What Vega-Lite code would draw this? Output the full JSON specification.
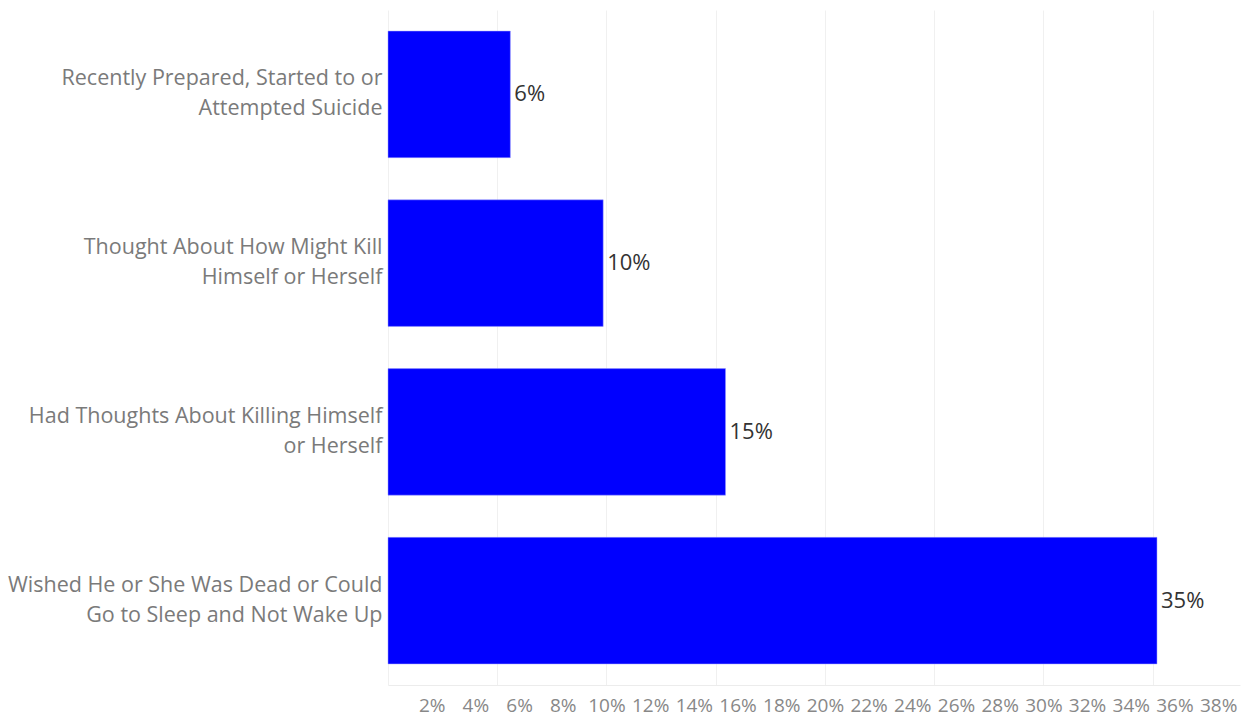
{
  "$schema": "https://vega.github.io/schema/vega-lite/v6.json",
  "autosize": "none",
  "width": 852,
  "height": 675,
  "padding": {"left": 388, "top": 10, "right": 7, "bottom": 32},
  "background": "white",
  "config": {"view": {"stroke": null}, "font": "Open Sans"},
  "data": {"values": [
    {"category": "Recently Prepared, Started to or|Attempted Suicide", "value": 0.056},
    {"category": "Thought About How Might Kill|Himself or Herself", "value": 0.0985},
    {"category": "Had Thoughts About Killing Himself|or Herself", "value": 0.1545},
    {"category": "Wished He or She Was Dead or Could|Go to Sleep and Not Wake Up", "value": 0.352}
  ]},
  "encoding": {
    "y": {
      "field": "category", "type": "nominal", "sort": null,
      "scale": {"paddingInner": 0.25, "paddingOuter": 0.125},
      "axis": {
        "title": null, "ticks": false, "domain": false,
        "labelExpr": "split(datum.label, '|')",
        "labelFontSize": 21.5, "labelLineHeight": 30, "labelColor": "#7a7a7a",
        "labelLimit": 400, "labelPadding": 6, "labelFont": "Open Sans", "labelOffset": -15
      }
    }
  },
  "layer": [
    {
      "mark": {"type": "bar", "color": "#0000ff", "stroke": "#9a9aff", "strokeWidth": 0.5},
      "encoding": {
        "x": {
          "field": "value", "type": "quantitative",
          "scale": {"domain": [0, 0.39], "nice": false},
          "axis": {
            "orient": "bottom", "title": null, "labels": false, "ticks": false,
            "values": [0, 0.05, 0.1, 0.15, 0.2, 0.25, 0.3, 0.35],
            "grid": true, "gridColor": "#f0f0f0", "gridWidth": 1,
            "domain": true, "domainColor": "#ececec"
          }
        }
      }
    },
    {
      "mark": {"type": "text", "align": "left", "baseline": "middle", "dx": 4, "fontSize": 22, "color": "#333333", "font": "Open Sans"},
      "encoding": {
        "x": {
          "field": "value", "type": "quantitative",
          "axis": {
            "orient": "bottom", "title": null, "grid": false, "ticks": false, "domain": false,
            "values": [0.02, 0.04, 0.06, 0.08, 0.1, 0.12, 0.14, 0.16, 0.18, 0.2, 0.22, 0.24, 0.26, 0.28, 0.3, 0.32, 0.34, 0.36, 0.38],
            "format": ".0%", "labelFontSize": 19, "labelColor": "#888888", "labelPadding": 11,
            "labelFont": "Open Sans", "labelOverlap": false
          }
        },
        "text": {"field": "value", "type": "quantitative", "format": ".0%"}
      }
    }
  ],
  "resolve": {"axis": {"x": "independent"}}
}
